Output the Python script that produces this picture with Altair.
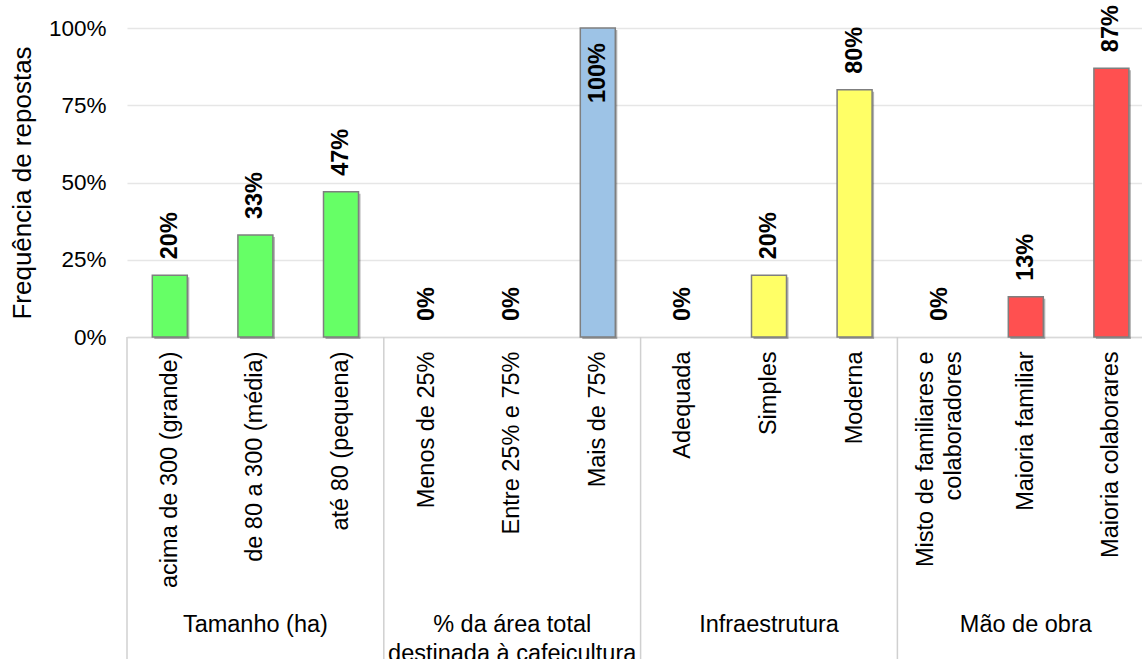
import altair as alt
import pandas as pd

# Categories (bottom axis), their group and the share of answers
categories = [
    "acima de 300 (grande)", "de 80 a 300 (média)", "até 80 (pequena)",
    "Menos de 25%", "Entre 25% e 75%", "Mais de 75%",
    "Adequada", "Simples", "Moderna",
    "Misto de familiares e\ncolaboradores", "Maioria familiar", "Maioria colaborares",
]
groups = (
    ["Tamanho (ha)"] * 3
    + ["% da área total\ndestinada à cafeicultura"] * 3
    + ["Infraestrutura"] * 3
    + ["Mão de obra"] * 3
)
values = [0.20, 0.33, 0.47, 0.00, 0.00, 1.00, 0.00, 0.20, 0.80, 0.00, 0.13, 0.87]

group_names = ["Tamanho (ha)", "% da área total\ndestinada à cafeicultura",
               "Infraestrutura", "Mão de obra"]
group_colors = ["#66FF66", "#9DC3E6", "#FFFF66", "#FF5050"]

y_ticks = [0, 0.25, 0.5, 0.75, 1.0]

FONT = "Liberation Sans"
PLOT_W, PLOT_H = 1015, 309
BAND = 85.6
FULL_RANGE = BAND * len(categories)

df = pd.DataFrame({"cat": categories, "grupo": groups, "valor": values})
df["rotulo"] = (df["valor"] * 100).round().astype(int).astype(str) + "%"

groups_df = pd.DataFrame({
    "grupo": group_names,
    "meio": [categories[i * 3 + 1] for i in range(4)],
    "inicio": [categories[i * 3] for i in range(4)],
})

x_scale = alt.Scale(domain=categories, range=[0, FULL_RANGE], paddingInner=0, paddingOuter=0)
y_scale = alt.Scale(domain=[0, 1])
color_scale = alt.Scale(domain=group_names, range=group_colors)

# two-line labels are centred on their band by shifting them half a line left
label_offset = {
    "condition": {"test": "indexof(datum.value, '\\n') >= 0", "value": -14},
    "value": 0,
}

x_enc = alt.X(
    "cat:N", scale=x_scale, sort=categories, title=None,
    axis=alt.Axis(
        labelAngle=-90, labelFont=FONT, labelFontSize=23.5, labelColor="black",
        labelPadding=14, labelLimit=400, ticks=False,
        domainColor="#D9D9D9", domainWidth=1.5,
        labelExpr="split(datum.value, '\\n')", labelLineHeight=28,
        labelOffset=label_offset,
    ),
)
y_enc = alt.Y(
    "valor:Q", scale=y_scale,
    axis=alt.Axis(
        values=y_ticks, format=".0%", title="Frequência de repostas",
        labelFont=FONT, labelFontSize=22.5, labelColor="black", labelPadding=21,
        ticks=False, domain=False, gridColor="#E6E6E6", gridWidth=1.5,
        titleFont=FONT, titleFontSize=26, titleFontWeight="normal", titleColor="black",
        titleAngle=270, titleX=-105, titleY=PLOT_H / 2,
        titleAlign="center", titleBaseline="middle",
    ),
)

base = alt.Chart(df)
bars_df = base.transform_filter("datum.valor > 0")

shadow = bars_df.mark_bar(size=35, xOffset=2, yOffset=2, color="#000000", opacity=0.3).encode(
    x=x_enc, y=y_enc,
)
bars = bars_df.mark_bar(size=35, stroke="#7F7F7F", strokeWidth=1.5).encode(
    x=alt.X("cat:N", scale=x_scale, sort=categories),
    y=alt.Y("valor:Q", scale=y_scale),
    color=alt.Color("grupo:N", scale=color_scale, legend=None),
)

labels_out = base.transform_filter("datum.valor < 1").mark_text(
    angle=270, align="left", baseline="middle", dx=16,
    font=FONT, fontSize=23.5, fontWeight="bold", color="black",
).encode(
    x=alt.X("cat:N", scale=x_scale, sort=categories),
    y=alt.Y("valor:Q", scale=y_scale),
    text="rotulo:N",
)
labels_in = base.transform_filter("datum.valor >= 1").mark_text(
    angle=270, align="right", baseline="middle", dx=-15,
    font=FONT, fontSize=23.5, fontWeight="bold", color="black",
).encode(
    x=alt.X("cat:N", scale=x_scale, sort=categories),
    y=alt.Y("valor:Q", scale=y_scale),
    text="rotulo:N",
)

separators = alt.Chart(groups_df).mark_rule(color="#D0D0D0", strokeWidth=1.5).encode(
    x=alt.X("inicio:N", scale=x_scale, sort=categories, bandPosition=0),
    y=alt.value(PLOT_H),
    y2=alt.value(PLOT_H + 330),
)

group_text = alt.Chart(groups_df).mark_text(
    lineBreak="\n", align="center", baseline="alphabetic", lineHeight=29,
    font=FONT, fontSize=23.5, color="black",
).encode(
    x=alt.X("meio:N", scale=x_scale, sort=categories, bandPosition=0.5),
    y=alt.value(604),
    text="grupo:N",
)

chart = alt.layer(shadow, bars, labels_out, labels_in, separators, group_text).properties(
    width=PLOT_W, height=PLOT_H,
    autosize=alt.AutoSizeParams(type="none"),
    padding={"left": 127, "top": 28, "right": 0, "bottom": 322},
    background="white",
).configure_view(stroke=None)

chart.save("out.html", embed_options={"renderer": "svg", "actions": False})
